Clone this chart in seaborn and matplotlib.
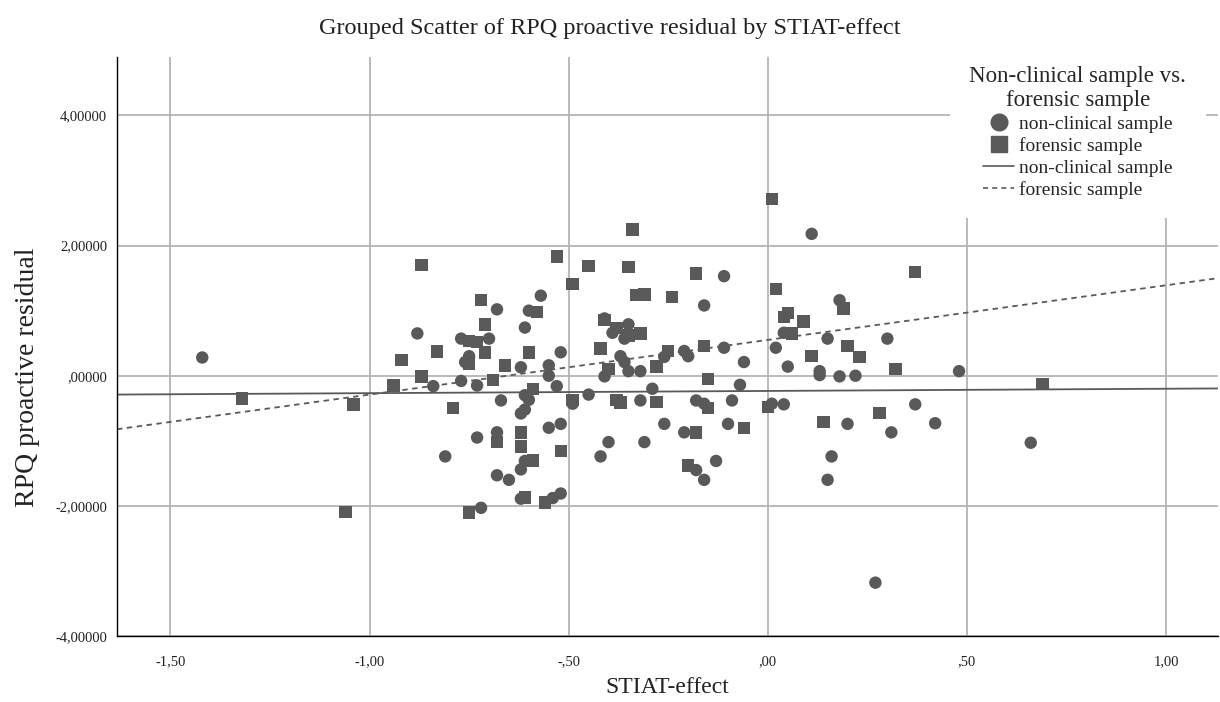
import numpy as np
import pandas as pd
import seaborn as sns
import matplotlib.pyplot as plt
from matplotlib.lines import Line2D

# values
nonclinical_x = [-1.42, -0.57, -0.68, -0.60, -0.61, -0.88, -0.77, -0.70, -0.52, -0.75,
                 -0.76, -0.62, -0.55, -0.55, -0.53, -0.84, -0.77, -0.73, -0.61, -0.60,
                 -0.67, -0.61, -0.62, -0.49, -0.45, -0.55, -0.52, -0.73, -0.68, -0.81,
                 -0.61, -0.62, -0.68, -0.65, -0.62, -0.54, -0.52, -0.72, -0.42, -0.11,
                 -0.16, -0.41, -0.39, -0.35, -0.36, -0.37, -0.36, -0.41, -0.35, -0.32,
                 -0.26, -0.21, -0.20, -0.11, -0.06, 0.02, -0.07, -0.29, 0.04, 0.05,
                 -0.32, -0.18, -0.16, -0.09, 0.01, 0.04, -0.26, -0.21, -0.10, -0.40,
                 -0.31, -0.18, -0.16, -0.13, 0.11, 0.18, 0.15, 0.30, 0.13, 0.13,
                 0.18, 0.22, 0.48, 0.37, 0.20, 0.31, 0.42, 0.16, 0.15, 0.27, 0.66]
nonclinical_y = [0.28, 1.23, 1.02, 1.00, 0.74, 0.65, 0.57, 0.57, 0.36, 0.30,
                 0.21, 0.13, 0.16, 0.00, -0.16, -0.16, -0.08, -0.15, -0.30, -0.37,
                 -0.38, -0.52, -0.58, -0.43, -0.29, -0.80, -0.74, -0.95, -0.87, -1.24,
                 -1.31, -1.44, -1.53, -1.60, -1.89, -1.88, -1.81, -2.03, -1.24, 1.53,
                 1.08, 0.88, 0.66, 0.79, 0.57, 0.30, 0.21, -0.01, 0.07, 0.07,
                 0.29, 0.38, 0.30, 0.43, 0.21, 0.43, -0.14, -0.20, 0.66, 0.14,
                 -0.38, -0.38, -0.43, -0.38, -0.43, -0.44, -0.74, -0.87, -0.74, -1.02,
                 -1.02, -1.45, -1.60, -1.31, 2.18, 1.16, 0.57, 0.57, 0.07, 0.01,
                 -0.01, 0.00, 0.07, -0.44, -0.74, -0.87, -0.73, -1.24, -1.60, -3.18, -1.03]

forensic_x = [-1.32, -1.04, -1.06, -0.94, -0.87, -0.53, -0.45, -0.49, -0.72, -0.58,
              -0.71, -0.75, -0.73, -0.83, -0.71, -0.60, -0.92, -0.75, -0.66, -0.87,
              -0.69, -0.59, -0.79, -0.49, -0.68, -0.62, -0.62, -0.52, -0.59, -0.61,
              -0.56, -0.75, 0.01, -0.34, -0.35, -0.18, 0.02, -0.33, -0.31, -0.24,
              -0.41, -0.38, -0.35, -0.32, -0.42, -0.40, -0.28, -0.25, -0.16, -0.15,
              0.05, 0.04, 0.06, -0.38, -0.37, -0.28, -0.15, 0.00, -0.18, -0.06,
              -0.20, 0.37, 0.19, 0.09, 0.20, 0.23, 0.11, 0.32, 0.14, 0.28, 0.69]
forensic_y = [-0.35, -0.44, -2.09, -0.15, 1.70, 1.83, 1.69, 1.41, 1.16, 0.98,
              0.79, 0.53, 0.52, 0.37, 0.36, 0.36, 0.24, 0.18, 0.16, -0.01,
              -0.07, -0.20, -0.50, -0.37, -1.02, -0.87, -1.09, -1.16, -1.30, -1.87,
              -1.95, -2.10, 2.72, 2.25, 1.67, 1.57, 1.33, 1.24, 1.25, 1.21,
              0.86, 0.73, 0.62, 0.65, 0.42, 0.10, 0.14, 0.38, 0.46, -0.05,
              0.96, 0.90, 0.65, -0.37, -0.41, -0.40, -0.50, -0.48, -0.87, -0.80,
              -1.38, 1.59, 1.03, 0.83, 0.46, 0.29, 0.30, 0.10, -0.71, -0.57, -0.13]

groups = ['non-clinical sample', 'forensic sample']
# fit lines (intercept, slope)
fit_intercept = [-0.234, 0.55]
fit_slope = [0.034, 0.84]

x_ticks = [-1.5, -1.0, -0.5, 0.0, 0.5, 1.0]
x_labels = ['-1,50', '-1,00', '-,50', ',00', ',50', '1,00']
y_ticks = [-4, -2, 0, 2, 4]
y_labels = ['-4,00000', '-2,00000', ',00000', '2,00000', '4,00000']

df = pd.DataFrame({
    'STIAT': nonclinical_x + forensic_x,
    'RPQ': nonclinical_y + forensic_y,
    'group': [groups[0]] * len(nonclinical_x) + [groups[1]] * len(forensic_x),
})

xlim = (-1.634, 1.129)
line_x = np.linspace(xlim[0], xlim[1], 50)
lines = pd.DataFrame({
    'STIAT': np.concatenate([line_x, line_x]),
    'RPQ': np.concatenate([fit_intercept[0] + fit_slope[0] * line_x,
                           fit_intercept[1] + fit_slope[1] * line_x]),
    'group': [groups[0]] * len(line_x) + [groups[1]] * len(line_x),
})

sns.set_style('white')
plt.rcParams['font.family'] = ['Liberation Serif', 'DejaVu Serif']

mark = '#595959'
fig = plt.figure(figsize=(12.2, 7.02), dpi=100)
ax = fig.add_axes([0.0959, 0.094, 0.9021, 0.825])

ax.grid(True, color='#b4b4b4', linewidth=1.3)
ax.set_axisbelow(True)

sns.scatterplot(data=df, x='STIAT', y='RPQ', style='group',
                markers={groups[0]: 'o', groups[1]: 's'}, color=mark,
                s=80, linewidth=0, ax=ax, legend=False, zorder=3)
sns.lineplot(data=lines, x='STIAT', y='RPQ', style='group',
             dashes={groups[0]: '', groups[1]: (3, 2.5)}, color=mark,
             linewidth=1.3, ax=ax, legend=False, zorder=2)

ax.set_xlim(*xlim)
ax.set_ylim(-4, 4.9)
ax.set_xticks(x_ticks)
ax.set_xticklabels(x_labels)
ax.set_yticks(y_ticks)
ax.set_yticklabels(y_labels)
ax.tick_params(axis='both', labelsize=10.5, colors='#222222', length=0)
ax.tick_params(axis='x', pad=14)
ax.tick_params(axis='y', pad=7)

for side in ['top', 'right']:
    ax.spines[side].set_visible(False)
for side in ['left', 'bottom']:
    ax.spines[side].set_color('black')
    ax.spines[side].set_linewidth(1.0)

ax.set_xlabel('STIAT-effect', fontsize=17, labelpad=6, color='#222222')
ax.set_ylabel('RPQ proactive residual', fontsize=20, color='#222222')
ax.yaxis.set_label_coords(-0.07, 0.447)
fig.suptitle('Grouped Scatter of RPQ proactive residual by STIAT-effect',
             fontsize=17.5, y=0.975, color='#222222')

handles = [
    Line2D([], [], marker='o', color=mark, linestyle='', markersize=12),
    Line2D([], [], marker='s', color=mark, linestyle='', markersize=12),
    Line2D([], [], color=mark, linewidth=1.2),
    Line2D([], [], color=mark, linewidth=1.2, linestyle=(0, (3, 2.5))),
]
leg = ax.legend(handles, groups + groups,
                title='Non-clinical sample vs.\nforensic sample',
                loc='upper right', bbox_to_anchor=(0.998, 1.035),
                fontsize=14, title_fontsize=16.5, frameon=True,
                facecolor='white', edgecolor='white', framealpha=1,
                handlelength=1.6, handletextpad=0.25, labelspacing=0.22,
                borderpad=1.0)
leg.get_title().set_multialignment('center')
leg.get_frame().set_linewidth(0)
leg.set_zorder(5)

plt.savefig('out.png', dpi=100)
